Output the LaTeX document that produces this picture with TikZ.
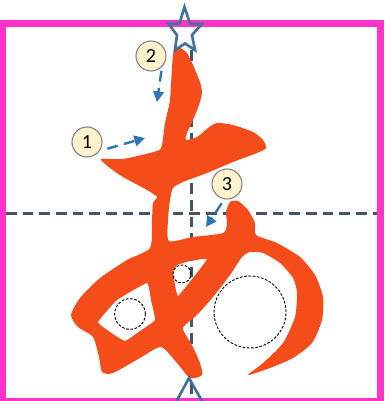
\documentclass[tikz,border=0pt]{standalone}
\usepackage{fontspec}
\setsansfont{Carlito}
\usetikzlibrary{arrows.meta,positioning,calc}
\definecolor{framepink}{HTML}{FF33CC}
\definecolor{guidegray}{HTML}{44546A}
\definecolor{glyphred}{HTML}{F54D1A}
\definecolor{starblue}{HTML}{41719C}
\definecolor{arrowblue}{HTML}{2E75B6}
\definecolor{badgefill}{HTML}{FFF2CC}
\begin{document}
\begin{tikzpicture}[
  x=0.75pt, y=-0.75pt,
  guide/.style={draw=guidegray, line width=2.2pt, dash pattern=on 8pt off 4.5pt},
  badge/.style={circle, draw=gray, fill=badgefill, line width=0.8pt, inner sep=0pt, minimum size=22.5pt, font=\sffamily\fontsize{15}{15}\selectfont},
  arrow/.style={-{Triangle[length=2.8mm,width=2.8mm]}, draw=arrowblue, fill=arrowblue, line width=1.8pt, dash pattern=on 8pt off 5pt},
  hole/.style={circle, draw=black, dash pattern=on 2pt off 1.2pt, line width=0.7pt, inner sep=0pt},
  star/.style={draw=starblue, line width=2pt, line join=miter}
]
\useasboundingbox (0,0) rectangle (390,401);
\fill[white] (0,0) rectangle (390,401);
% guide lines
\coordinate (midL) at (6,213.3);
\coordinate (midR) at (377,213.3);
\coordinate (topC) at (191.3,50);
\coordinate (botC) at (191.3,398);
\draw[guide] (midL) -- (midR);
\draw[guide] (topC) -- (botC);
% frame
\draw[framepink, line width=5.4pt] (2.5,23.7) rectangle (380.8,401.5);
% character
\fill[glyphred, even odd rule]
  plot[smooth cycle, tension=0.4] coordinates {
    (174,50) (180,48) (187,53) (193,65) (200,82) (202,93) (199,105) (193,120)
    (187,133) (186,140) (197,137) (208,128) (217,123) (233,125) (253,132) (263,140)
    (266,148) (257,153) (233,162) (207,173) (183,182) (173,188) (170,200) (168,220)
    (169,241) (193,237) (223,233) (227,223) (226,212) (230,202) (238,201) (248,210)
    (255,223) (256,235) (277,243) (300,257) (315,275) (323,297) (322,320) (312,343)
    (293,358) (270,368) (248,375) (263,363) (283,343) (295,317) (297,293) (293,278)
    (280,263) (263,253) (250,252) (242,257) (230,275) (213,297) (197,315) (183,328)
    (192,345) (200,363) (202,375) (190,378) (177,363) (161,347) (140,358) (113,373)
    (102,372) (99,357) (93,337) (78,327) (71,315) (80,298) (100,278) (127,260)
    (150,248) (152,220) (153,203) (157,197) (147,190) (123,177) (110,168) (101,159)
    (123,159) (157,151) (162,145) (165,123) (170,100) (172,67)}
  plot[smooth cycle, tension=0.2] coordinates {
    (147,283) (151,300) (155,320) (140,331) (125,341) (110,332) (98,322) (117,300)}
  plot[smooth cycle, tension=0.2] coordinates {
    (207,259) (193,278) (178,296) (175,285) (173,272) (177,265) (190,261)};
% stars
\draw[star] (184.5,7) -- (190,23.5) -- (202,24) -- (192,35) -- (195,50) -- (185,43.5) -- (175,50) -- (177,35) -- (168.5,24) -- (179.5,23.5) -- cycle;
\coordinate (tipB) at (189,378);
\coordinate (legL) at (176,402);
\coordinate (legR) at (202.5,402);
\draw[star] (legL) -- (tipB) -- (legR);
% dashed circles
\node[hole, minimum size=54pt] (holeA) at (250,312) {};
\node[hole, minimum size=23pt] (holeB) at (130,314) {};
\node[hole, minimum size=13.5pt] (holeC) at (182,274) {};
% numbered badges
\node[badge] (one) at (87,142) {1};
\node[badge] (two) at (151,56) {2};
\node[badge] (three) at (227,184) {3};
\coordinate (endOne) at (145,138);
\coordinate (endTwo) at (157,102);
\coordinate (endThree) at (206,227);
\draw[arrow, shorten <=6pt] (one.-35) -- (endOne);
\draw[arrow, shorten <=3pt] (two.-45) -- (endTwo);
\draw[arrow, shorten <=3.5pt] (three.-100) -- (endThree);
\end{tikzpicture}
\end{document}
